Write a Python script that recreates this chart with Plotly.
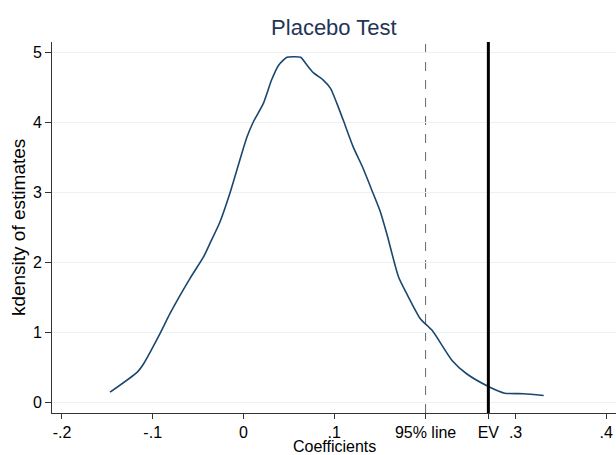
import plotly.graph_objects as go

# Kernel density of placebo estimates
coef_x = [-0.147, -0.117, -0.110, -0.092, -0.081, -0.059, -0.044, -0.037, -0.026, -0.015,
          -0.004, 0.004, 0.011, 0.022, 0.031, 0.039, 0.048, 0.055, 0.063, 0.070,
          0.077, 0.088, 0.096, 0.103, 0.110, 0.121, 0.132, 0.143, 0.151,
          0.158, 0.171, 0.180, 0.195, 0.208, 0.230, 0.246, 0.270, 0.288, 0.309, 0.331]
density_y = [0.151, 0.437, 0.557, 0.986, 1.271, 1.771, 2.080, 2.271, 2.576, 2.986,
             3.461, 3.794, 4.009, 4.271, 4.604, 4.819, 4.929, 4.937, 4.929, 4.819,
             4.709, 4.604, 4.486, 4.271, 4.033, 3.651, 3.343, 2.986, 2.723,
             2.414, 1.794, 1.557, 1.200, 1.033, 0.604, 0.414, 0.233, 0.137, 0.129, 0.104]

line_95 = 0.2008   # 95% line
line_ev = 0.270    # estimated value (EV)

x_tick_vals = [-0.2, -0.1, 0, 0.1, line_95, line_ev, 0.3, 0.4]
x_tick_text = ["-.2", "-.1", "0", ".1", "95% line", "EV", ".3", ".4"]
y_tick_vals = [0, 1, 2, 3, 4, 5]
y_tick_text = ["0", "1", "2", "3", "4", "5"]

FONT = "Liberation Sans, Arial, sans-serif"

fig = go.Figure()
fig.add_trace(go.Scatter(
    x=coef_x, y=density_y, mode="lines",
    line=dict(color="#1a476f", width=1.6, shape="spline", smoothing=0.6),
    showlegend=False, hoverinfo="skip"))

fig.add_vline(x=line_95, line=dict(color="#666666", width=1, dash="dash"), layer="below")
fig.add_vline(x=line_ev, line=dict(color="#000000", width=3))

fig.update_layout(
    width=616, height=455,
    margin=dict(l=52, r=0, t=42, b=42, autoexpand=False),
    paper_bgcolor="white", plot_bgcolor="white",
    font=dict(family=FONT, color="#000000", size=16),
    title=dict(text="Placebo Test", x=0.542, xanchor="center", y=0.94, yanchor="middle",
               font=dict(family=FONT, size=22, color="#1f3657")),
    xaxis=dict(range=[-0.211, 0.4107], tickmode="array", tickvals=x_tick_vals,
               ticktext=x_tick_text, ticks="outside", ticklen=5, tickcolor="#333333",
               showline=True, linecolor="#333333", linewidth=1, showgrid=False,
               zeroline=False, tickfont=dict(size=16), automargin=False),
    yaxis=dict(range=[-0.146, 5.147], tickmode="array", tickvals=y_tick_vals,
               ticktext=y_tick_text, ticks="outside", ticklen=6, tickcolor="#333333",
               showline=True, linecolor="#333333", linewidth=1, showgrid=True,
               gridcolor="#eaf2f3", gridwidth=1, zeroline=False, tickfont=dict(size=16),
               automargin=False),
    annotations=[
        dict(text="Coefficients", xref="paper", yref="paper", x=0.5, y=-0.0916,
             xanchor="center", yanchor="middle", showarrow=False,
             font=dict(family=FONT, size=16, color="#000000")),
        dict(text="kdensity of estimates", xref="paper", yref="paper", x=-0.0603, y=0.501,
             xanchor="center", yanchor="middle", textangle=-90, showarrow=False,
             font=dict(family=FONT, size=19, color="#000000")),
    ],
)

fig.write_html("out.html", config={"displayModeBar": False},
               post_script="document.body.style.margin='0';document.body.style.overflow='hidden';")
